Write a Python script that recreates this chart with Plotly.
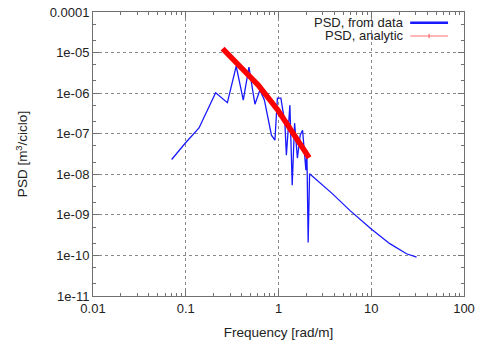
import plotly.graph_objects as go

# ---- data ----
freq_data = [0.0705, 0.098, 0.139, 0.210, 0.281, 0.350, 0.417, 0.480, 0.557, 0.631,
             0.705, 0.839, 0.915, 0.973, 1.061, 1.172, 1.216, 1.327, 1.405, 1.491,
             1.599, 1.713, 1.818, 1.974, 2.023, 2.089, 2.163, 3.88, 5.87, 10.08,
             15.85, 24.0, 30.8]
psd_data = [2.31e-8, 5.73e-8, 1.39e-7, 1.02e-6, 5.82e-7, 4.65e-6, 6.71e-7, 4.38e-6, 5.35e-7, 1.19e-6,
            6.71e-7, 9.18e-8, 6.91e-8, 7.53e-7, 7.53e-7, 1.82e-7, 2.94e-8, 5.06e-7, 5.35e-9, 1.82e-7,
            2.48e-8, 9.18e-8, 1.22e-7, 1.26e-8, 3.92e-8, 2.09e-10, 1.03e-8, 3.2e-9, 1.29e-9, 4.39e-10,
            1.95e-10, 1.10e-10, 9.08e-11]

freq_analytic = [0.2497, 0.307, 0.384, 0.48, 0.604, 0.769, 0.993, 1.20, 1.44, 1.74, 2.14]
psd_analytic = [1.256e-5, 7.96e-6, 4.78e-6, 2.70e-6, 1.58e-6, 8.2e-7, 3.70e-7, 1.92e-7, 1.03e-7, 5.06e-8, 2.55e-8]

x_tickvals = [0.01, 0.1, 1, 10, 100]
x_ticktext = ["0.01", "0.1", "1", "10", "100"]
y_tickvals = [1e-11, 1e-10, 1e-9, 1e-8, 1e-7, 1e-6, 1e-5, 1e-4]
y_ticktext = ["1e-11", "1e-10", "1e-09", "1e-08", "1e-07", "1e-06", "1e-05", "0.0001"]

series_names = ["PSD, from data", "PSD, analytic"]

FONT = "Liberation Sans, Arial, sans-serif"
BLUE = "rgb(25,25,255)"
RED = "rgb(255,0,0)"
KEY_RED = "rgb(255,110,110)"

# minor tick positions (2..9 per decade on x, 2 and 5 per decade on y)
x_minor = [m * 10.0 ** e for e in range(-2, 2) for m in range(2, 10)]
y_minor = [m * 10.0 ** e for e in range(-11, -4) for m in (2, 5)]

fig = go.Figure()
fig.add_trace(go.Scatter(x=freq_data, y=psd_data, mode="lines",
                         line=dict(color=BLUE, width=1.3), name=series_names[0],
                         showlegend=False))
fig.add_trace(go.Scatter(x=freq_analytic, y=psd_analytic, mode="lines",
                         line=dict(color=RED, width=5.5), name=series_names[1],
                         showlegend=False))

axis_common = dict(
    showline=True, linecolor="#707070", linewidth=1, mirror="allticks",
    ticks="inside", ticklen=6, tickcolor="#707070", automargin=False,
    showgrid=True, gridcolor="#8a8a8a", griddash="dot", gridwidth=1,
    zeroline=False, tickfont=dict(family=FONT, size=13, color="#222"),
)

fig.update_xaxes(type="log", range=[-2, 2], tickvals=x_tickvals, ticktext=x_ticktext,
                 minor=dict(tickmode="array", tickvals=x_minor, ticks="inside", ticklen=3,
                            tickcolor="#707070", showgrid=False),
                 title=dict(text="Frequency [rad/m]", font=dict(family=FONT, size=13.5, color="#222"),
                            standoff=12),
                 **axis_common)
fig.update_yaxes(type="log", range=[-11, -4], tickvals=y_tickvals, ticktext=y_ticktext,
                 minor=dict(tickmode="array", tickvals=y_minor, ticks="inside", ticklen=3,
                            tickcolor="#707070", showgrid=False),
                 title=dict(text="PSD [m<sup>3</sup>/ciclo]", font=dict(family=FONT, size=13.5, color="#222"),
                            standoff=18),
                 **axis_common)

# gnuplot-style key: text right-aligned, sample line on the right
key_y = [0.9623, 0.9155]
for name, ky, col in zip(series_names, key_y, [BLUE, KEY_RED]):
    fig.add_annotation(x=0.841, y=ky, xref="paper", yref="paper", text=name,
                       showarrow=False, xanchor="right", yanchor="middle", borderpad=0,
                       font=dict(family=FONT, size=13, color="#222"))
    fig.add_shape(type="line", xref="paper", yref="paper", x0=0.855, x1=0.957, y0=ky, y1=ky,
                  line=dict(color=col, width=2.5 if col == BLUE else 1.2))
fig.add_shape(type="line", xref="paper", yref="paper", x0=0.906, x1=0.906,
              y0=key_y[1] - 0.008, y1=key_y[1] + 0.008, line=dict(color=KEY_RED, width=1.2))

fig.update_layout(
    width=478, height=343,
    margin=dict(l=93, r=14, t=12, b=47),
    paper_bgcolor="white", plot_bgcolor="white",
    font=dict(family=FONT, size=13, color="#222"),
    showlegend=False,
)

fig.write_html("out.html", config={"displayModeBar": False},
               post_script="document.body.style.margin='0';document.body.style.overflow='hidden';")
